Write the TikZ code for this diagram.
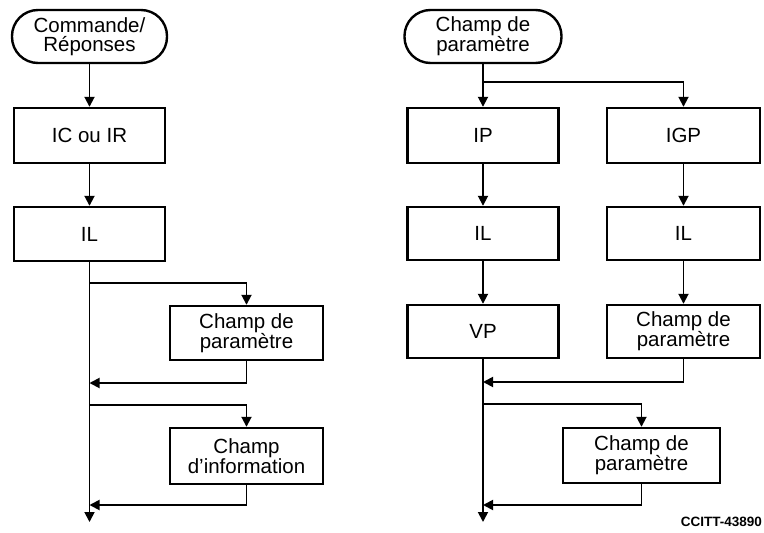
\documentclass[tikz,border=0pt]{standalone}
\usepackage{fontspec}
\setmainfont{Liberation Sans}
\usetikzlibrary{arrows.meta,positioning}
\begin{document}
\begin{tikzpicture}[x=1pt,y=-1pt,
  box/.style={draw,line width=2.4pt,rectangle,minimum width=151pt,minimum height=54pt,inner sep=0pt,align=center,font=\fontsize{20.5}{19}\selectfont},
  term/.style={box,rounded corners=26pt,minimum height=53pt},
  conn/.style={line width=1.8pt},
  arr/.style={conn,-{Triangle[length=10pt,width=10pt]}}]
\useasboundingbox (0,0) rectangle (764,533);
% left column
\node[term,minimum width=155pt] (t1) at (89.5,36.5) {Commande/\\Réponses};
\node[box,minimum height=55pt] (icir) at (89.5,135.5) {IC ou IR};
\node[box] (il1) at (89.5,234) {IL};
\node[box,minimum width=153pt] (cp1) at (246.5,333) {Champ de\\paramètre};
\node[box,minimum width=153pt,minimum height=56pt] (ci) at (246.5,456) {Champ\\d’information};
\coordinate (b1) at (89.5,283);
\coordinate (r1) at (89.5,383);
\coordinate (b2) at (89.5,405);
\coordinate (r2) at (89.5,505);
\coordinate (e1) at (89.5,522);
\draw[arr] (t1) -- (icir);
\draw[arr] (icir) -- (il1);
\draw[arr] (il1.south) -- (e1);
\draw[arr] (b1) -| (cp1.north);
\draw[arr] (cp1.south) |- (r1);
\draw[arr] (b2) -| (ci.north);
\draw[arr] (ci.south) |- (r2);
% right column
\node[term,minimum width=157pt] (t2) at (483,36.5) {Champ de\\paramètre};
\node[box,minimum height=55pt] (ip) at (483,135.5) {IP};
\node[box,minimum width=153pt,minimum height=55pt] (igp) at (683.5,135.5) {IGP};
\node[box,minimum height=53pt] (il2) at (483,233.5) {IL};
\node[box,minimum width=153pt,minimum height=53pt] (il3) at (683.5,233.5) {IL};
\node[box,minimum height=53pt] (vp) at (483,331.5) {VP};
\node[box,minimum width=153pt,minimum height=53pt] (cp2) at (683.5,331.5) {Champ de\\paramètre};
\node[box,minimum width=157pt,minimum height=55pt] (cp3) at (641.5,455.5) {Champ de\\paramètre};
\coordinate (s2) at (483,82);
\coordinate (r3) at (483,382);
\coordinate (b3) at (483,404);
\coordinate (r4) at (483,505);
\coordinate (e2) at (483,522);
\draw[conn] (t2) -- (s2);
\draw[arr] (s2) -- (ip);
\draw[arr] (s2) -| (igp.north);
\draw[arr] (ip) -- (il2);
\draw[arr] (igp) -- (il3);
\draw[arr] (il2) -- (vp);
\draw[arr] (il3) -- (cp2);
\draw[arr] (vp.south) -- (e2);
\draw[arr] (cp2.south) |- (r3);
\draw[arr] (b3) -| (cp3.north);
\draw[arr] (cp3.south) |- (r4);
\node[anchor=east,font=\fontsize{13.5}{13.5}\selectfont\bfseries,inner sep=0pt] (lab) at (762,522) {CCITT-43890};
\end{tikzpicture}
\end{document}
